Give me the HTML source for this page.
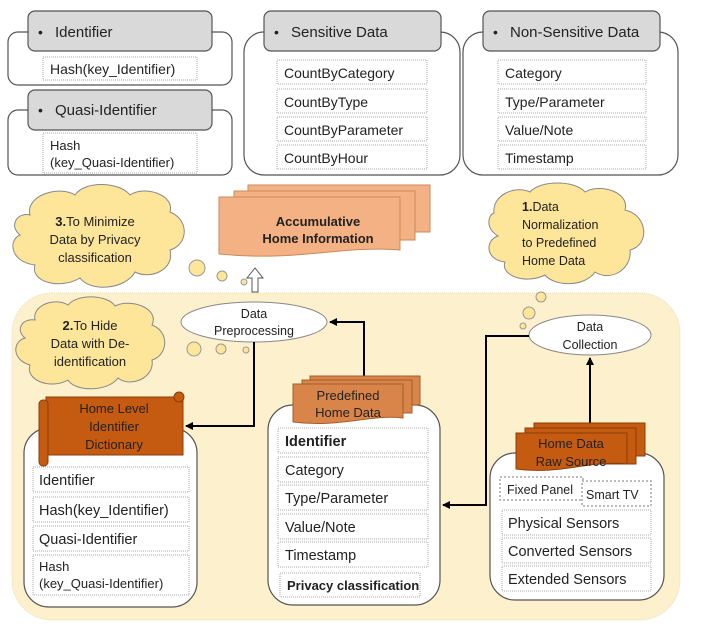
<!DOCTYPE html>
<html><head><meta charset="utf-8"><style>
html,body{margin:0;padding:0;background:#fff}
svg{display:block;font-family:"Liberation Sans",sans-serif}
</style></head><body>
<svg width="728" height="632" viewBox="0 0 728 632" xmlns="http://www.w3.org/2000/svg">
<defs>
<marker id="ah" markerWidth="8" markerHeight="8" refX="7" refY="4" orient="auto" markerUnits="userSpaceOnUse"><path d="M0,0 L8,4 L0,8 z" fill="#000"/></marker>
</defs>
<g font-size="14" fill="#222">
<!-- Identifier group -->
<rect x="8" y="32" width="224" height="53" rx="10" fill="#fff" stroke="#555" stroke-width="1.2"/>
<rect x="28" y="11" width="184" height="40" rx="7" fill="#d9d9d9" stroke="#555" stroke-width="1.2"/>
<text x="38" y="37">•</text><text x="55" y="37" font-size="15">Identifier</text>
<rect x="43" y="57" width="154" height="23" fill="#fff" stroke="#aaa" stroke-dasharray="1,1"/>
<text x="50" y="74">Hash(key_Identifier)</text>
<!-- Quasi -->
<rect x="8" y="110" width="224" height="65" rx="10" fill="#fff" stroke="#555" stroke-width="1.2"/>
<rect x="28" y="90" width="184" height="40" rx="7" fill="#d9d9d9" stroke="#555" stroke-width="1.2"/>
<text x="38" y="115">•</text><text x="55" y="115" font-size="15">Quasi-Identifier</text>
<rect x="43" y="133" width="154" height="40" fill="#fff" stroke="#aaa" stroke-dasharray="1,1"/>
<text x="50" y="150" font-size="13">Hash</text><text x="50" y="167" font-size="13">(key_Quasi-Identifier)</text>
<!-- Sensitive -->
<rect x="244" y="32" width="216" height="143" rx="20" fill="#fff" stroke="#555" stroke-width="1.2"/>
<rect x="264" y="11" width="177" height="40" rx="7" fill="#d9d9d9" stroke="#555" stroke-width="1.2"/>
<text x="274" y="37">•</text><text x="291" y="37" font-size="15">Sensitive Data</text>
<g fill="#fff" stroke="#aaa" stroke-dasharray="1,1">
<rect x="277" y="60" width="150" height="24"/><rect x="277" y="89" width="150" height="24"/><rect x="277" y="117" width="150" height="24"/><rect x="277" y="145" width="150" height="24"/>
</g>
<text x="284" y="78">CountByCategory</text><text x="284" y="107">CountByType</text><text x="284" y="135">CountByParameter</text><text x="284" y="163">CountByHour</text>
<!-- Non-sensitive -->
<rect x="463" y="32" width="215" height="143" rx="20" fill="#fff" stroke="#555" stroke-width="1.2"/>
<rect x="483" y="11" width="177" height="40" rx="7" fill="#d9d9d9" stroke="#555" stroke-width="1.2"/>
<text x="493" y="37">•</text><text x="510" y="37" font-size="15">Non-Sensitive Data</text>
<g fill="#fff" stroke="#aaa" stroke-dasharray="1,1">
<rect x="498" y="60" width="148" height="24"/><rect x="498" y="89" width="148" height="24"/><rect x="498" y="117" width="148" height="24"/><rect x="498" y="145" width="148" height="24"/>
</g>
<text x="505" y="78">Category</text><text x="505" y="107">Type/Parameter</text><text x="505" y="135">Value/Note</text><text x="505" y="163">Timestamp</text>
</g>
<!-- Accumulative stack -->
<g fill="#f4b183" stroke="#c98a5e">
<rect x="248" y="185" width="182" height="47"/>
<rect x="234" y="191" width="181" height="49"/>
<path d="M219,197 H400 V250 C340,245 300,262 219,254 Z"/>
</g>
<text x="318" y="226" font-size="13" font-weight="bold" text-anchor="middle" fill="#222">Accumulative</text>
<text x="318" y="243" font-size="13" font-weight="bold" text-anchor="middle" fill="#222">Home Information</text>
<!-- Cloud 3 -->
<g fill="#fde699" stroke="#888" stroke-width="1">
<path d="M30,215 C25,195 60,185 75,195 C85,180 120,182 130,195 C145,185 175,195 170,212 C190,220 188,245 170,250 C175,270 150,280 135,272 C125,290 90,292 80,278 C60,290 30,282 35,265 C10,262 8,240 20,235 C8,225 18,212 30,215 Z"/>
<path d="M494,213 C492,195 515,185 530,192 C540,180 575,180 585,192 C600,183 630,192 625,210 C648,215 650,245 630,250 C632,270 610,282 595,272 C585,287 555,287 545,275 C525,285 500,275 505,262 C485,260 485,240 498,236 C485,228 488,215 494,213 Z"/>
<path d="M35,320 C32,305 55,297 68,305 C78,293 108,295 115,306 C130,298 160,308 152,325 C170,332 168,355 152,360 C155,378 130,388 118,378 C108,392 75,392 68,380 C50,390 25,380 30,365 C12,360 12,342 25,338 C15,330 22,318 35,320 Z"/>
</g>
<text x="95" y="226" font-size="13" text-anchor="middle" fill="#222"><tspan font-weight="bold">3.</tspan>To Minimize</text>
<text x="95" y="244" font-size="13" text-anchor="middle" fill="#222">Data  by Privacy</text>
<text x="95" y="262" font-size="13" text-anchor="middle" fill="#222">classification</text>
<text x="522" y="211" font-size="12.5" fill="#222"><tspan font-weight="bold">1.</tspan>Data</text>
<text x="522" y="229" font-size="12.5" fill="#222">Normalization</text>
<text x="522" y="247" font-size="12.5" fill="#222">to Predefined</text>
<text x="522" y="265" font-size="12.5" fill="#222">Home Data</text>
<!-- bubbles top -->
<g fill="#fde699" stroke="#999">
<circle cx="197" cy="268" r="8"/><circle cx="222" cy="276" r="5"/><circle cx="244" cy="282" r="3"/>
</g>
<path d="M252,292 V278 H247 L255,268 L263,278 H258 V292 Z" fill="#fff" stroke="#555"/>
<!-- beige region -->
<rect x="12" y="293" width="668" height="327" rx="40" fill="#fdf0cc" stroke="#e8dcb8" stroke-dasharray="1,1"/>
<!-- cloud 2 redraw on top -->
<path d="M35,320 C32,305 55,297 68,305 C78,293 108,295 115,306 C130,298 160,308 152,325 C170,332 168,355 152,360 C155,378 130,388 118,378 C108,392 75,392 68,380 C50,390 25,380 30,365 C12,360 12,342 25,338 C15,330 22,318 35,320 Z" fill="#fde699" stroke="#888"/>
<text x="90" y="330" font-size="13" text-anchor="middle" fill="#222"><tspan font-weight="bold">2.</tspan>To Hide</text>
<text x="90" y="348" font-size="13" text-anchor="middle" fill="#222">Data with De-</text>
<text x="90" y="366" font-size="13" text-anchor="middle" fill="#222">identification</text>
<g fill="#fde699" stroke="#999">
<circle cx="194" cy="349" r="7"/><circle cx="221" cy="349" r="5"/><circle cx="246" cy="350" r="3"/>
<circle cx="541" cy="297" r="5"/><circle cx="529" cy="313" r="6"/><circle cx="523" cy="326" r="3"/>
</g>
<!-- ellipses -->
<ellipse cx="254" cy="322" rx="73" ry="20" fill="#fff" stroke="#888"/>
<text x="254" y="318" font-size="12.5" text-anchor="middle" fill="#222">Data</text>
<text x="254" y="335" font-size="12.5" text-anchor="middle" fill="#222">Preprocessing</text>
<ellipse cx="590" cy="335" rx="61" ry="20" fill="#fff" stroke="#888"/>
<text x="590" y="331" font-size="12.5" text-anchor="middle" fill="#222">Data</text>
<text x="590" y="349" font-size="12.5" text-anchor="middle" fill="#222">Collection</text>
<!-- connectors -->
<g fill="none" stroke="#000" stroke-width="2">
<path d="M254,342 V426 H186" marker-end="url(#ah)"/>
<path d="M364,382 V322 H330" marker-end="url(#ah)"/>
<path d="M529,336 H486 V505 H443" marker-end="url(#ah)"/>
<path d="M590,425 V358" marker-end="url(#ah)"/>
</g>
<!-- Home level dictionary -->
<rect x="24" y="428" width="173" height="179" rx="25" fill="#fff" stroke="#555" stroke-width="1.2"/>
<path d="M46,397 H183 V455 H46 Z" fill="#c55a11" stroke="#8a3d0c"/>
<rect x="39" y="400" width="9" height="66" rx="4" fill="#c55a11" stroke="#8a3d0c"/>
<circle cx="179" cy="397" r="5" fill="#c55a11" stroke="#8a3d0c"/>
<text x="114" y="413" font-size="13" text-anchor="middle" fill="#222">Home Level</text>
<text x="114" y="431" font-size="13" text-anchor="middle" fill="#222">Identifier</text>
<text x="114" y="449" font-size="13" text-anchor="middle" fill="#222">Dictionary</text>
<g fill="#fff" stroke="#aaa" stroke-dasharray="1,1">
<rect x="33" y="467" width="156" height="25"/><rect x="33" y="497" width="156" height="25"/><rect x="33" y="526" width="156" height="25"/><rect x="33" y="555" width="156" height="40"/>
</g>
<g font-size="14.5" fill="#222">
<text x="39" y="485">Identifier</text><text x="39" y="515">Hash(key_Identifier)</text><text x="39" y="544">Quasi-Identifier</text>
<text x="39" y="571" font-size="13">Hash</text><text x="39" y="588" font-size="13">(key_Quasi-Identifier)</text>
</g>
<!-- Predefined -->
<rect x="268" y="405" width="172" height="200" rx="25" fill="#fff" stroke="#555" stroke-width="1.2"/>
<g fill="#d9854a" stroke="#a35e2c">
<rect x="310" y="376" width="110" height="29"/>
<rect x="302" y="380" width="110" height="33"/>
<path d="M293,384 H403 V418 C370,414 340,428 293,422 Z"/>
</g>
<text x="348" y="400" font-size="13" text-anchor="middle" fill="#222">Predefined</text>
<text x="348" y="417" font-size="13" text-anchor="middle" fill="#222">Home Data</text>
<g fill="#fff" stroke="#aaa" stroke-dasharray="1,1">
<rect x="278" y="428" width="150" height="25"/><rect x="278" y="457" width="150" height="25"/><rect x="278" y="485" width="150" height="25"/><rect x="278" y="514" width="150" height="25"/><rect x="278" y="542" width="150" height="25"/><rect x="280" y="573" width="140" height="24"/>
</g>
<g font-size="14.5" fill="#222">
<text x="285" y="446" font-weight="bold">Identifier</text><text x="285" y="475">Category</text><text x="285" y="503">Type/Parameter</text><text x="285" y="532">Value/Note</text><text x="285" y="560">Timestamp</text>
<text x="287" y="590" font-size="13" font-weight="bold">Privacy classification</text>
</g>
<!-- Raw source -->
<rect x="490" y="453" width="174" height="147" rx="25" fill="#fff" stroke="#555" stroke-width="1.2"/>
<g fill="#c55a11" stroke="#8a3d0c">
<rect x="534" y="423" width="111" height="33"/>
<rect x="525" y="428" width="111" height="36"/>
<path d="M516,433 H627 V464 C590,460 560,475 516,469 Z"/>
</g>
<text x="571" y="448" font-size="13" text-anchor="middle" fill="#222">Home Data</text>
<text x="571" y="466" font-size="13" text-anchor="middle" fill="#222">Raw Source</text>
<rect x="500" y="477" width="83" height="23" fill="#fff" stroke="#777" stroke-dasharray="2,2"/>
<rect x="582" y="481" width="69" height="25" fill="#fff" stroke="#777" stroke-dasharray="2,2"/>
<text x="507" y="494" font-size="12.5" fill="#222">Fixed Panel</text>
<text x="586" y="499" font-size="12.5" fill="#222">Smart TV</text>
<g fill="#fff" stroke="#aaa" stroke-dasharray="1,1">
<rect x="502" y="510" width="149" height="25"/><rect x="502" y="538" width="149" height="25"/><rect x="502" y="566" width="149" height="25"/>
</g>
<g font-size="14.5" fill="#222">
<text x="508" y="528">Physical Sensors</text><text x="508" y="556">Converted Sensors</text><text x="508" y="584">Extended Sensors</text>
</g>
</svg>
</body></html>
